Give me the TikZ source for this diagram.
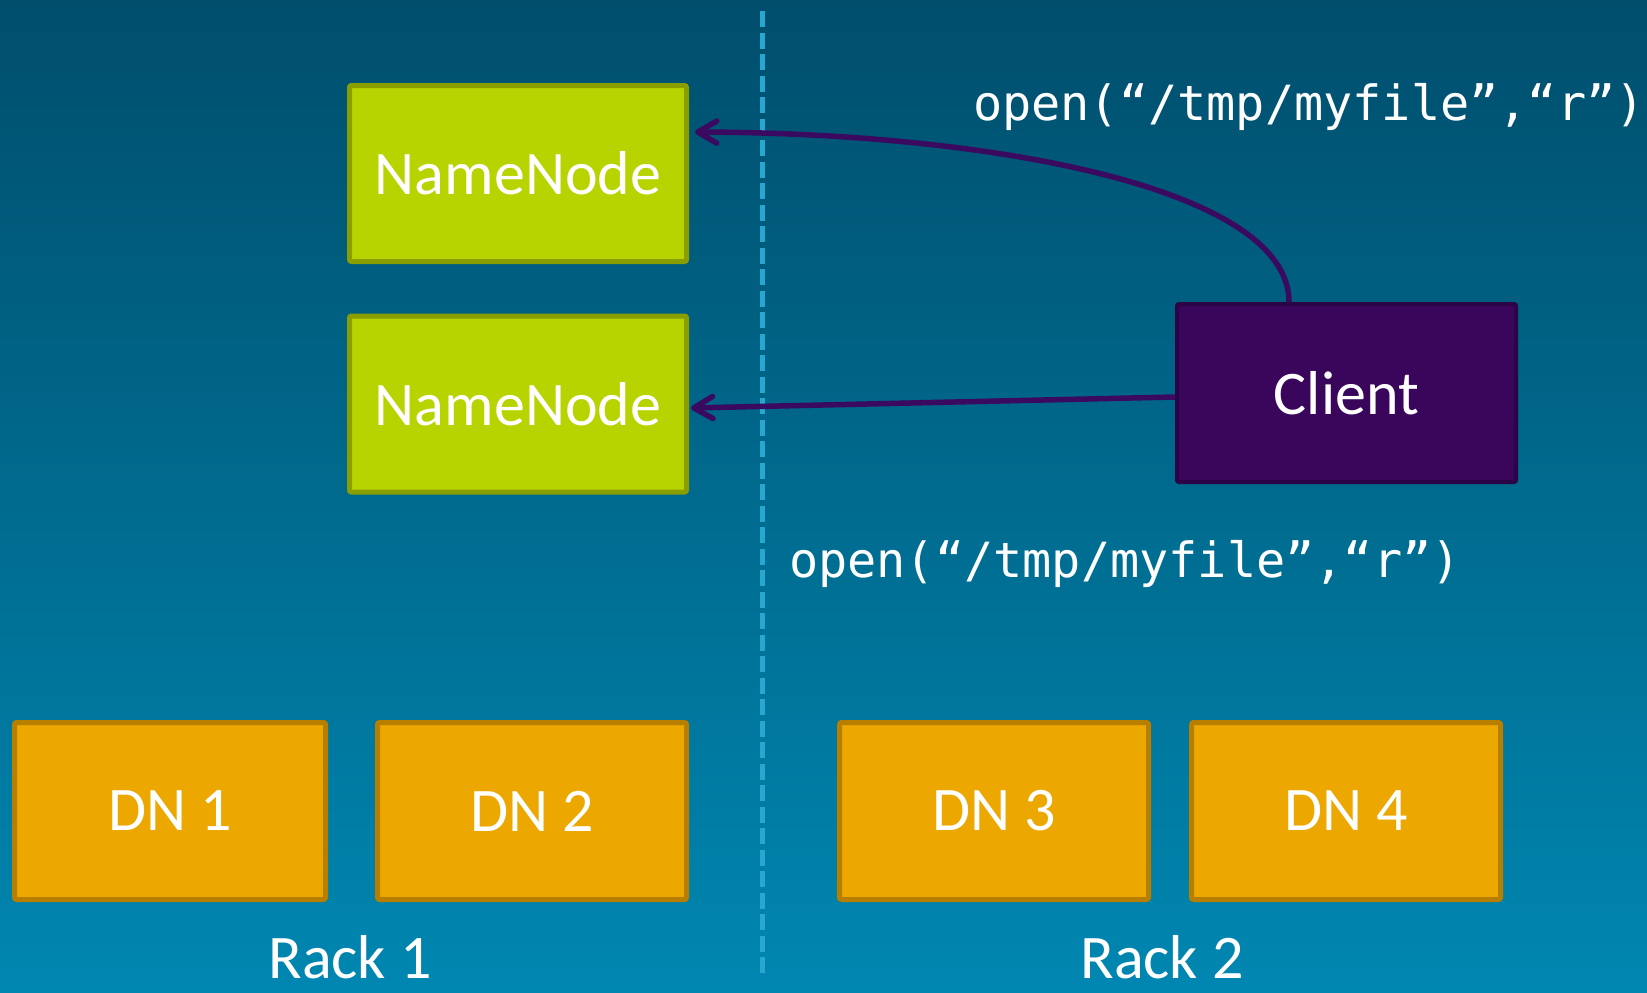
\documentclass[tikz,border=0pt]{standalone}
\usepackage{fontspec}
\setmainfont{Carlito}
\newfontfamily\monof{DejaVu Sans Mono}
\usetikzlibrary{arrows.meta}
\definecolor{bgtop}{RGB}{0,78,108}
\definecolor{bgbot}{RGB}{0,135,177}
\definecolor{nnfill}{RGB}{184,212,0}
\definecolor{nnline}{RGB}{138,158,0}
\definecolor{dnfill}{RGB}{236,167,0}
\definecolor{dnline}{RGB}{184,126,0}
\definecolor{clfill}{RGB}{58,6,92}
\definecolor{clline}{RGB}{43,4,69}
\definecolor{dashc}{RGB}{42,167,208}
\definecolor{arrc}{RGB}{58,10,96}
\tikzset{
  box/.style={rectangle, rounded corners=2pt, line width=5pt, text=white,
    font=\fontsize{62}{74}\selectfont, inner sep=0pt},
  nnbox/.style={box, fill=nnfill, draw=nnline, minimum width=337pt, minimum height=176pt},
  dnbox/.style={box, fill=dnfill, draw=dnline, minimum height=177pt},
  clbox/.style={box, fill=clfill, draw=clline, line width=4pt, minimum width=339pt, minimum height=178pt},
  codetext/.style={text=white, font=\monof\fontsize{48.5}{56}\selectfont, inner sep=0pt, anchor=base west},
  racktext/.style={text=white, font=\fontsize{62}{74}\selectfont, inner sep=0pt, anchor=base},
  call/.style={draw=arrc, line width=5.5pt, -{Straight Barb[length=19pt,width=22pt,line cap=round,line join=round,line width=5.5pt]}},
  divider/.style={draw=dashc, line width=5pt, dash pattern=on 16pt off 5.5pt},
}
\begin{document}
\begin{tikzpicture}[x=1pt,y=-1pt]
\useasboundingbox (0,0) rectangle (1647,993);
\shade[top color=bgtop, bottom color=bgbot] (0,0) rectangle (1647,993);
\coordinate (dtop) at (762,11);
\coordinate (dbot) at (762,978);
\draw[divider] (dtop) -- (dbot);
\node[nnbox] (nn1) at (518,173.5) {NameNode};
\node[nnbox] (nn2) at (518,404) {NameNode};
\node[clbox] (client) at (1346.5,393) {Client};
\node[dnbox, minimum width=311pt] (dn1) at (170,811) {DN 1};
\node[dnbox, minimum width=309pt] (dn2) at (532,811) {DN 2};
\node[dnbox, minimum width=309pt] (dn3) at (994,811) {DN 3};
\node[dnbox, minimum width=309pt] (dn4) at (1346,811) {DN 4};
\node[codetext] (code1) at (973,120) {open(“/tmp/myfile”,“r”)};
\node[codetext] (code2) at (789,577) {open(“/tmp/myfile”,“r”)};
\node[racktext] (rack1) at (350,978) {Rack 1};
\node[racktext] (rack2) at (1162,978) {Rack 2};
\draw[call] ([xshift=-57.5pt]client.north) .. controls (1289,190) and (1000,133) .. ([xshift=6pt,yshift=41.5pt]nn1.east);
\draw[call] ([yshift=-4pt]client.west) -- ([xshift=2pt,yshift=-4pt]nn2.east);
\end{tikzpicture}
\end{document}
